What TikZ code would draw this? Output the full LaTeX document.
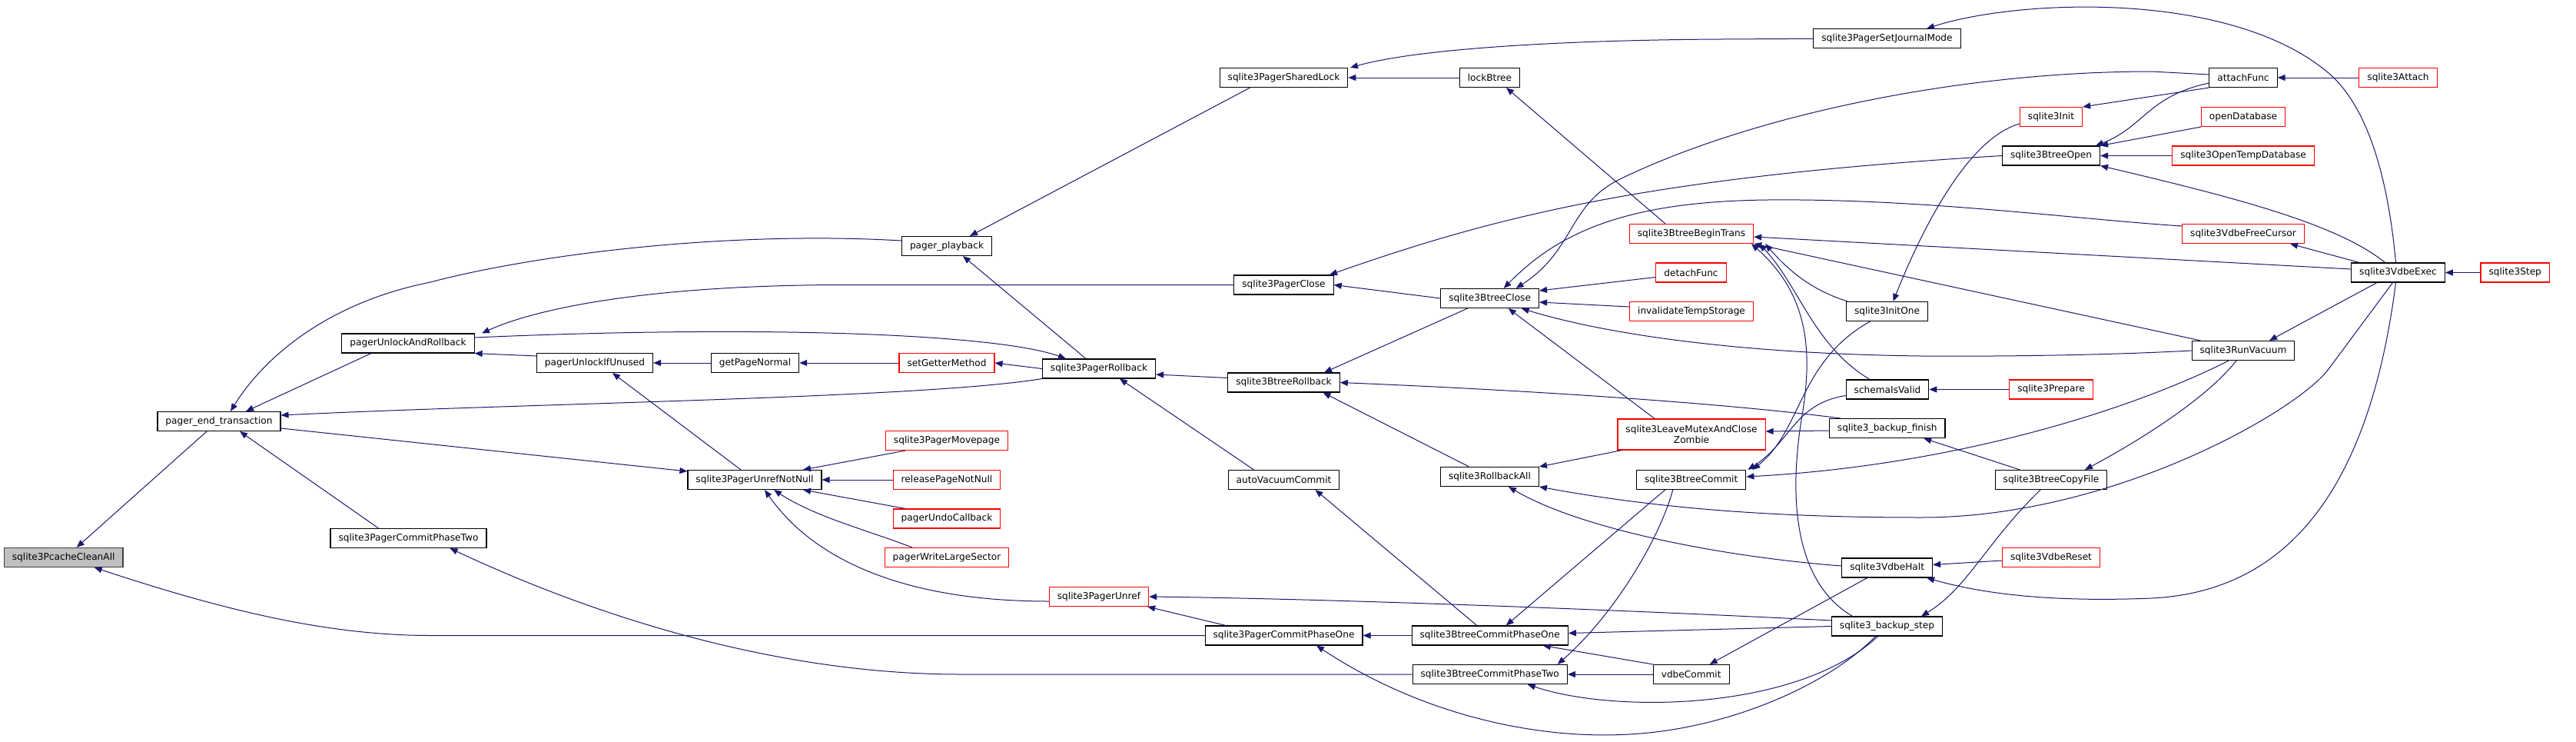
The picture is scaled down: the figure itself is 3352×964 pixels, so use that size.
\documentclass[tikz,border=0pt]{standalone}
\usepackage{fontspec}
\setmainfont{DejaVu Sans}
\usetikzlibrary{arrows.meta}
\definecolor{edgeblue}{HTML}{191970}
\definecolor{rootgray}{HTML}{BFBFBF}
\definecolor{rootline}{HTML}{404040}

\begin{document}
\begin{tikzpicture}[
    x=1pt, y=-1pt,
    >={Triangle[length=10pt,width=8pt]},
    font=\fontsize{12.15}{14.6}\selectfont,
    fnbox/.style={draw=black, line width=1.1pt, fill=white, minimum height=25pt, inner xsep=10.5pt, inner ysep=2pt},
    redbox/.style={fnbox, draw=red},
    rootbox/.style={fnbox, draw=rootline, fill=rootgray},
    callarrow/.style={<-, draw=edgeblue, line width=1pt}
]
  \path[use as bounding box, fill=white] (0,0) rectangle (3352,964);

  % nodes
  \node[rootbox] (cleanAll)     at (82.7,725)    {sqlite3PcacheCleanAll};
  \node[fnbox]   (pet)          at (285,548)     {pager\_end\_transaction};
  \node[fnbox]   (pcTwo)        at (531.5,700)   {sqlite3PagerCommitPhaseTwo};
  \node[fnbox]   (unlockRb)     at (531,446.5)   {pagerUnlockAndRollback};
  \node[fnbox]   (unlockUnused) at (774,472)     {pagerUnlockIfUnused};
  \node[fnbox]   (getPage)      at (982.5,472)   {getPageNormal};
  \node[fnbox]   (unrefNN)      at (982,624)     {sqlite3PagerUnrefNotNull};
  \node[fnbox]   (playback)     at (1232,320)    {pager\_playback};
  \node[redbox]  (setGetter)    at (1232,472)    {setGetterMethod};
  \node[fnbox]   (pagerRb)      at (1430,479.5)  {sqlite3PagerRollback};
  \node[fnbox]   (sharedLock)   at (1670.5,101)  {sqlite3PagerSharedLock};
  \node[fnbox]   (pagerClose)   at (1670.5,370.5){sqlite3PagerClose};
  \node[redbox]  (movepage)     at (1232,573)    {sqlite3PagerMovepage};
  \node[redbox]  (releasePage)  at (1232,624)    {releasePageNotNull};
  \node[redbox]  (undoCb)       at (1232,674.5)  {pagerUndoCallback};
  \node[redbox]  (writeLarge)   at (1232,725)    {pagerWriteLargeSector};
  \node[redbox]  (pagerUnref)   at (1430,776)    {sqlite3PagerUnref};
  \node[fnbox]   (pcOne)        at (1670.5,826.5){sqlite3PagerCommitPhaseOne};
  \node[fnbox]   (btRb)         at (1670.5,497.5){sqlite3BtreeRollback};
  \node[fnbox]   (autoVac)      at (1670.5,624)  {autoVacuumCommit};
  \node[fnbox]   (lockBtree)    at (1938.5,101)  {lockBtree};
  \node[fnbox]   (btClose)      at (1938.7,388)  {sqlite3BtreeClose};
  \node[redbox]  (beginTrans)   at (2201,304)    {sqlite3BtreeBeginTrans};
  \node[redbox]  (detachFunc)   at (2200.5,354.5){detachFunc};
  \node[redbox]  (invalTemp)    at (2201,405)    {invalidateTempStorage};
  \node[redbox, align=center, minimum height=40pt] (leaveMutex) at (2201,565) {sqlite3LeaveMutexAndClose\\Zombie};
  \node[fnbox]   (rollbackAll)  at (1938.5,620)  {sqlite3RollbackAll};
  \node[fnbox]   (btCommit)     at (2200.7,624)  {sqlite3BtreeCommit};
  \node[fnbox]   (btcOne)       at (1938.7,826.5){sqlite3BtreeCommitPhaseOne};
  \node[fnbox]   (btcTwo)       at (1938.7,877)  {sqlite3BtreeCommitPhaseTwo};
  \node[fnbox]   (vdbeCommit)   at (2200.7,877)  {vdbeCommit};
  \node[fnbox]   (journal)      at (2455.5,50.3) {sqlite3PagerSetJournalMode};
  \node[redbox]  (sqlInit)      at (2669,152)    {sqlite3Init};
  \node[fnbox]   (btOpen)       at (2669,202.5)  {sqlite3BtreeOpen};
  \node[fnbox]   (initOne)      at (2455.5,405)  {sqlite3InitOne};
  \node[fnbox]   (schemaValid)  at (2456,506.5)  {schemaIsValid};
  \node[redbox]  (prepare)      at (2669,506.5)  {sqlite3Prepare};
  \node[fnbox]   (backupFinish) at (2455.7,557)  {sqlite3\_backup\_finish};
  \node[fnbox]   (btCopy)       at (2669,624)    {sqlite3BtreeCopyFile};
  \node[fnbox]   (vdbeHalt)     at (2455.7,738.5){sqlite3VdbeHalt};
  \node[redbox]  (vdbeReset)    at (2669,725)    {sqlite3VdbeReset};
  \node[fnbox]   (backupStep)   at (2455.5,814.5){sqlite3\_backup\_step};
  \node[fnbox]   (attachFunc)   at (2919,101)    {attachFunc};
  \node[redbox]  (attach)       at (3120.5,101)  {sqlite3Attach};
  \node[redbox]  (openDb)       at (2919,152)    {openDatabase};
  \node[redbox]  (openTemp)     at (2919,202.5)  {sqlite3OpenTempDatabase};
  \node[redbox]  (freeCursor)   at (2919,304)    {sqlite3VdbeFreeCursor};
  \node[fnbox]   (vdbeExec)     at (3120.5,354.5){sqlite3VdbeExec};
  \node[redbox]  (step)         at (3272.7,354.5){sqlite3Step};
  \node[fnbox]   (runVacuum)    at (2919,456)    {sqlite3RunVacuum};

  % edges
  \draw[callarrow] ([xshift=17pt]cleanAll.north) -- ([xshift=-16pt]pet.south);
  \draw[callarrow] ([xshift=40pt]cleanAll.south) .. controls (280,790) and (420,826.5) .. (560,826.5) -- (pcOne.west);
  \draw[callarrow] ([xshift=35pt]pet.north) -- ([xshift=-48pt]unlockRb.south);
  \draw[callarrow] ([xshift=15pt]pet.north) .. controls (340,470) and (420,395) .. (560,367) .. controls (700,330) and (950,300) .. ([yshift=7pt]playback.west);
  \draw[callarrow] ([yshift=8pt]pet.east) .. controls (700,524) and (1200,518) .. (pagerRb.south west);
  \draw[callarrow] ([yshift=11pt]unrefNN.west) -- ([yshift=-9pt]pet.east);
  \draw[callarrow] ([xshift=27pt]pet.south) -- ([xshift=-39pt]pcTwo.north);
  \draw[callarrow] ([xshift=54pt]pcTwo.south) .. controls (760,795) and (1000,877) .. (1250,877) -- (btcTwo.west);
  \draw[callarrow] ([xshift=-43pt]pagerRb.north) .. controls (1300,435) and (1000,422) .. ([yshift=7.5pt]unlockRb.east);
  \draw[callarrow] ([xshift=96pt]unlockRb.north) .. controls (700,400) and (850,370.5) .. (1100,370.5) -- (pagerClose.west);
  \draw[callarrow] (unlockRb.south east) -- ([yshift=9pt]unlockUnused.west);
  \draw[callarrow] (unlockUnused.east) -- (getPage.west);
  \draw[callarrow] (getPage.east) -- (setGetter.west);
  \draw[callarrow] (setGetter.east) -- (pagerRb.west);
  \draw[callarrow] ([xshift=23pt]unlockUnused.south) -- ([xshift=-18pt]unrefNN.north);
  \draw[callarrow] ([xshift=63pt]unrefNN.north) -- ([xshift=-54pt]movepage.south);
  \draw[callarrow] (unrefNN.east) -- (releasePage.west);
  \draw[callarrow] ([xshift=63pt]unrefNN.south) -- ([xshift=-54pt]undoCb.north);
  \draw[callarrow] ([xshift=25pt]unrefNN.south) .. controls (1060,672) and (1130,690) .. ([xshift=-45pt]writeLarge.north);
  \draw[callarrow] ([xshift=13pt]unrefNN.south) .. controls (1060,730) and (1180,782) .. ([yshift=-6pt]pagerUnref.west);
  \draw[callarrow] ([xshift=21pt]playback.south) -- ([xshift=-17pt]pagerRb.north);
  \draw[callarrow] ([xshift=30pt]playback.north) -- ([xshift=-44pt]sharedLock.south);
  \draw[callarrow] ([yshift=-7.5pt]pagerRb.east) -- ([yshift=6pt]btRb.west);
  \draw[callarrow] ([xshift=27pt]pagerRb.south) -- ([xshift=-39pt]autoVac.north);
  \draw[callarrow] (pagerUnref.east) .. controls (1750,779) and (2150,795) .. ([yshift=7.5pt]backupStep.west);
  \draw[callarrow] ([xshift=-2pt]pagerUnref.south east) -- ([xshift=-75.5pt]pcOne.north);
  \draw[callarrow] (pcOne.east) -- (btcOne.west);
  \draw[callarrow] ([xshift=42.5pt]pcOne.south) .. controls (1850,930) and (2000,962) .. (2120,955) .. controls (2250,948) and (2380,890) .. ([xshift=-15pt]backupStep.south);
  \draw[callarrow] (sharedLock.east) -- (lockBtree.west);
  \draw[callarrow] ([xshift=86.5pt]sharedLock.north) .. controls (1850,62) and (2050,52) .. (2240,51) -- (journal.west);
  \draw[callarrow] ([xshift=59.5pt]pagerClose.north) .. controls (1950,280) and (2150,230) .. (btOpen.west);
  \draw[callarrow] (pagerClose.east) -- (btClose.west);
  \draw[callarrow] ([xshift=21.5pt]lockBtree.south) -- ([xshift=-34pt]beginTrans.north);
  \draw[callarrow] ([xshift=18pt]btClose.north) .. controls (2030,300) and (2120,262) .. (2300,260) .. controls (2500,258) and (2700,285) .. ([yshift=10pt]freeCursor.west);
  \draw[callarrow] ([xshift=34pt]btClose.north) .. controls (2050,325) and (2040,265) .. (2110,232) .. controls (2280,150) and (2550,93) .. (2800,93) -- ([yshift=4pt]attachFunc.west);
  \draw[callarrow] ([xshift=51.5pt]journal.north) .. controls (2620,0) and (2900,-15) .. (3030,95) .. controls (3090,146) and (3110,260) .. ([xshift=-3pt]vdbeExec.north);
  \draw[callarrow] ([yshift=10pt]btClose.east) -- ([yshift=-6pt]detachFunc.west);
  \draw[callarrow] ([yshift=-5pt]btClose.east) -- ([yshift=6pt]invalTemp.west);
  \draw[callarrow] ([xshift=41pt]btClose.south) .. controls (2080,432) and (2250,460) .. (2500,463) .. controls (2650,464) and (2780,460) .. (runVacuum.west);
  \draw[callarrow] ([xshift=24pt]btClose.south) -- ([xshift=-48pt]leaveMutex.north);
  \draw[callarrow] ([xshift=52.5pt]btRb.north) -- ([xshift=-29pt]btClose.south);
  \draw[callarrow] (btRb.east) .. controls (2000,508) and (2250,525) .. ([xshift=-61pt]backupFinish.north);
  \draw[callarrow] ([xshift=51pt]btRb.south) -- ([xshift=-27pt]rollbackAll.north);
  \draw[callarrow] (rollbackAll.north east) -- ([xshift=6pt]leaveMutex.south west);
  \draw[callarrow] (rollbackAll.south east) .. controls (2150,660) and (2300,673) .. (2500,673) .. controls (2750,673) and (2990,534) .. (3030,480) -- ([xshift=-7pt]vdbeExec.south);
  \draw[callarrow] ([xshift=-8pt]vdbeHalt.south east) .. controls (2600,778) and (2700,782) .. (2800,778) .. controls (2960,770) and (3080,660) .. ([xshift=-3pt]vdbeExec.south);
  \draw[callarrow] ([xshift=44pt]btCopy.north) .. controls (2780,575) and (2870,520) .. ([xshift=-9pt]runVacuum.south);
  \draw[callarrow] ([yshift=4pt]btCommit.east) .. controls (2550,605) and (2780,530) .. ([xshift=-19pt]runVacuum.south);
  \draw[callarrow] ([xshift=34pt]runVacuum.north) -- ([xshift=-27.5pt]vdbeExec.south);
  \draw[callarrow] ([yshift=3pt]btcOne.east) -- (backupStep.west);
  \draw[callarrow] ([yshift=-4pt]beginTrans.east) -- ([yshift=4.5pt]vdbeExec.west);
  \draw[callarrow] (beginTrans.south east) -- ([xshift=12pt]runVacuum.north west);
  \draw[callarrow] ([xshift=78pt]beginTrans.south) .. controls (2350,380) and (2360,450) .. (2345,540) .. controls (2325,660) and (2340,760) .. ([xshift=-45pt]backupStep.north);
  \draw[callarrow] ([xshift=88pt]beginTrans.south) .. controls (2340,370) and (2360,450) .. ([xshift=-23pt]schemaValid.north);
  \draw[callarrow] ([xshift=96pt]beginTrans.south) .. controls (2330,355) and (2360,378) .. ([xshift=2pt]initOne.north west);
  \draw[callarrow] ([xshift=2pt]btCommit.north east) .. controls (2330,575) and (2335,525) .. ([yshift=-8pt]schemaValid.west);
  \draw[callarrow] ([xshift=8pt]btCommit.north east) .. controls (2345,560) and (2340,470) .. ([xshift=-22pt]initOne.south);
  \draw[callarrow] ([xshift=21pt]btcOne.north) -- ([xshift=-34pt]btCommit.south);
  \draw[callarrow] ([xshift=88pt]btcTwo.north) .. controls (2100,800) and (2160,700) .. ([xshift=-24pt]btCommit.south);
  \draw[callarrow] ([xshift=69pt]btcOne.south) -- (vdbeCommit.north west);
  \draw[callarrow] (btcTwo.east) -- (vdbeCommit.west);
  \draw[callarrow] ([xshift=49pt]btcTwo.south) .. controls (2100,928) and (2340,925) .. ([xshift=-12pt]backupStep.south);
  \draw[callarrow] ([xshift=-26pt]vdbeCommit.north east) -- ([xshift=-26pt]vdbeHalt.south);
  \draw[callarrow] ([xshift=24.5pt]rollbackAll.south) .. controls (2060,690) and (2250,725) .. ([yshift=2.5pt]vdbeHalt.west);
  \draw[callarrow] ([yshift=4pt]vdbeHalt.east) -- ([yshift=-4pt]vdbeReset.west);
  \draw[callarrow] ([xshift=44.5pt]backupStep.north) .. controls (2560,765) and (2585,705) .. ([xshift=-14pt]btCopy.south);
  \draw[callarrow] ([xshift=47.5pt]backupFinish.south) -- ([xshift=-40.7pt]btCopy.north);
  \draw[callarrow] ([yshift=4pt]leaveMutex.east) -- ([yshift=-3pt]backupFinish.west);
  \draw[callarrow] (schemaValid.east) -- (prepare.west);
  \draw[callarrow] (sqlInit.north east) -- (attachFunc.south west);
  \draw[callarrow] ([xshift=-6pt]btOpen.north east) .. controls (2790,165) and (2795,125) .. ([yshift=-7pt]attachFunc.west);
  \draw[callarrow] (btOpen.north east) -- (openDb.south west);
  \draw[callarrow] (btOpen.east) -- (openTemp.west);
  \draw[callarrow] (btOpen.south east) .. controls (2900,255) and (3040,290) .. ([xshift=-17pt]vdbeExec.north);
  \draw[callarrow] ([xshift=61pt]freeCursor.south) -- ([xshift=11pt]vdbeExec.north west);
  \draw[callarrow] ([xshift=8pt]initOne.north) .. controls (2500,300) and (2560,180) .. ([yshift=-9pt]sqlInit.west);
  \draw[callarrow] (attachFunc.east) -- (attach.west);
  \draw[callarrow] (vdbeExec.east) -- (step.west);
  \draw[callarrow] ([xshift=41pt]autoVac.south) -- ([xshift=-17pt]btcOne.north);
\end{tikzpicture}
\end{document}
